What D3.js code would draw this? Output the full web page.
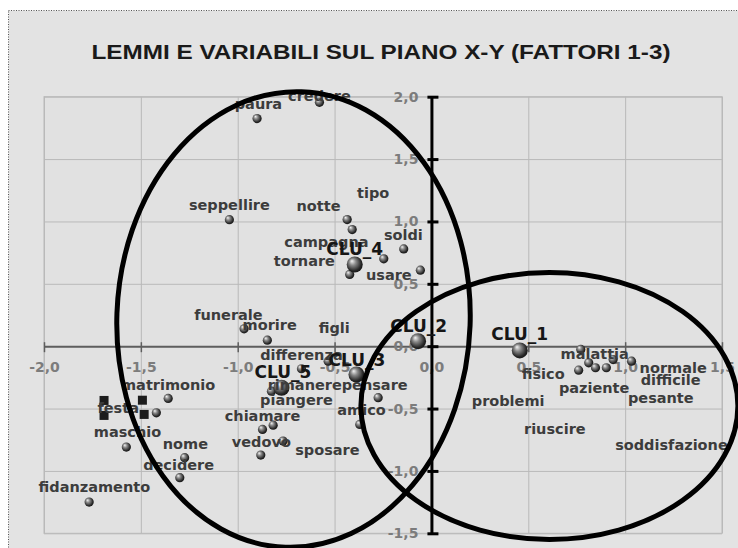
<!DOCTYPE html>
<html>
<head>
<meta charset="utf-8">
<script src="https://cdn.jsdelivr.net/npm/d3@7"></script>
<style>
  body { margin: 0; background: #fff; }
  svg { display: block; }
</style>
</head>
<body>
<div id="chart"></div>
<script>
(function() {
  // axis ticks
  var xTicks = [-2, -1.5, -1, -0.5, 0, 0.5, 1, 1.5];
  var yTicks = [-1.5, -1, -0.5, 0, 0.5, 1, 1.5, 2];

  // lemmi (small spheres)
  var lemmaX = [-0.900, -0.578, -1.043, -0.435, -0.409, -0.422, -0.246, -0.143, -0.057,
                -0.967, -0.847, -0.671, -0.533, -0.826, -0.275, -0.370, -0.817, -0.872,
                -0.766, -0.881,
                0.771, 0.812, 0.847, 0.903, 0.938, 1.033, 0.760,
                -1.359, -1.420, -1.575, -1.274, -1.299, -1.767];
  var lemmaY = [1.825, 1.955, 1.014, 1.015, 0.935, 0.575, 0.700, 0.780, 0.609,
                0.139, 0.048, -0.181, -0.120, -0.361, -0.413, -0.627, -0.633, -0.667,
                -0.761, -0.873,
                -0.026, -0.133, -0.173, -0.173, -0.107, -0.120, -0.192,
                -0.419, -0.534, -0.809, -0.894, -1.054, -1.250];

  // cluster centres (big spheres)
  var cluNames = ["CLU_1", "CLU_2", "CLU_3", "CLU_4", "CLU_5"];
  var cluX = [0.456, -0.069, -0.387, -0.396, -0.774];
  var cluY = [-0.034, 0.040, -0.227, 0.655, -0.333];

  // variabili (squares)
  var varX = [-1.690, -1.690, -1.492, -1.483];
  var varY = [-0.435, -0.555, -0.433, -0.547];

  // labels and where they sit on the plane
  var labelText = ["paura", "credere", "seppellire", "notte", "tipo", "campagna", "tornare", "soldi", "usare",
                   "funerale", "morire", "figli", "differenza", "rimanere", "pensare", "piangere", "amico",
                   "chiamare", "vedovo", "sposare",
                   "malattia", "fisico", "normale", "difficile", "paziente", "pesante", "problemi", "riuscire", "soddisfazione",
                   "matrimonio", "festa", "maschio", "nome", "decidere", "fidanzamento"];
  var labelX = [-0.893, -0.578, -1.043, -0.583, -0.301, -0.542, -0.656, -0.145, -0.220,
                -1.048, -0.835, -0.502, -0.671, -0.654, -0.293, -0.697, -0.361,
                -0.872, -0.878, -0.537,
                0.843, 0.577, 1.248, 1.235, 0.840, 1.184, 0.396, 0.637, 1.239,
                -1.359, -1.617, -1.569, -1.270, -1.305, -1.740];
  var labelY = [1.944, 2.009, 1.130, 1.122, 1.229, 0.839, 0.687, 0.895, 0.569,
                0.254, 0.168, 0.147, -0.067, -0.307, -0.307, -0.427, -0.507,
                -0.555, -0.766, -0.833,
                -0.061, -0.221, -0.173, -0.267, -0.333, -0.413, -0.435, -0.662, -0.793,
                -0.307, -0.494, -0.689, -0.780, -0.948, -1.127];
  var cluLabelX = [0.456, -0.066, -0.384, -0.396, -0.766];
  var cluLabelY = [0.102, 0.160, -0.107, 0.780, -0.205];

  // hand-drawn ellipses (centre, radii in data units, tilt in degrees)
  var ellCx = [-0.712, 0.609];
  var ellCy = [0.214, -0.479];
  var ellRx = [0.912, 0.973];
  var ellRy = [1.827, 1.070];
  var ellTilt = [2, 0];

  var W = 738, H = 548;
  var plot = {left: 44, right: 722, top: 96.7, bottom: 533.3};

  var it = d3.formatLocale({decimal: ",", thousands: ".", grouping: [3], currency: ["", "€"], minus: "-"});
  var fmt = it.format(".1f");

  var x = d3.scaleLinear().domain([-2, 1.5]).range([plot.left, plot.right]);
  var y = d3.scaleLinear().domain([-1.5, 2]).range([plot.bottom, plot.top]);

  var svg = d3.select("#chart").append("svg")
    .attr("width", W).attr("height", H);

  var defs = svg.append("defs");
  var grad = defs.append("radialGradient")
    .attr("id", "ball").attr("cx", "45%").attr("cy", "45%").attr("r", "60%")
    .attr("fx", "32%").attr("fy", "28%");
  grad.append("stop").attr("offset", "0%").attr("stop-color", "#f4f4f4");
  grad.append("stop").attr("offset", "35%").attr("stop-color", "#8a8a8a");
  grad.append("stop").attr("offset", "80%").attr("stop-color", "#262626");
  grad.append("stop").attr("offset", "100%").attr("stop-color", "#111");

  // chart area with dotted frame
  svg.append("rect")
    .attr("x", 8.5).attr("y", 10.5).attr("width", W).attr("height", H)
    .attr("fill", "#e3e3e3")
    .attr("stroke", "#555").attr("stroke-width", 1).attr("stroke-dasharray", "1,1.5");

  svg.append("text")
    .attr("x", 381).attr("y", 58.5)
    .attr("text-anchor", "middle")
    .attr("font-family", "'Liberation Sans Narrow', 'Liberation Sans', sans-serif")
    .attr("font-weight", "bold")
    .attr("font-size", 21)
    .attr("fill", "#1a1a1a")
    .attr("textLength", 579).attr("lengthAdjust", "spacingAndGlyphs")
    .text("LEMMI E VARIABILI SUL PIANO X-Y  (FATTORI 1-3)");

  // plot area and grid
  svg.append("rect")
    .attr("x", plot.left).attr("y", plot.top)
    .attr("width", plot.right - plot.left).attr("height", plot.bottom - plot.top)
    .attr("fill", "#e1e1e1").attr("stroke", "#b9b9b9");

  svg.append("g")
    .attr("transform", `translate(0,${plot.bottom})`)
    .call(d3.axisBottom(x).tickValues(xTicks).tickSize(-(plot.bottom - plot.top)).tickFormat(""))
    .call(g => g.select(".domain").remove())
    .call(g => g.selectAll("line").attr("stroke", "#b9b9b9"));

  svg.append("g")
    .attr("transform", `translate(${plot.left},0)`)
    .call(d3.axisLeft(y).tickValues(yTicks).tickSize(-(plot.right - plot.left)).tickFormat(""))
    .call(g => g.select(".domain").remove())
    .call(g => g.selectAll("line").attr("stroke", "#b9b9b9"));

  // X axis through y = 0
  var gx = svg.append("g")
    .attr("transform", `translate(0,${y(0)})`)
    .call(d3.axisBottom(x).tickValues(xTicks).tickFormat(fmt).tickSizeOuter(0));
  gx.select(".domain").attr("stroke", "#5e5e5e").attr("stroke-width", 2);
  gx.selectAll(".tick line").attr("y1", -4).attr("y2", 6).attr("stroke", "#5e5e5e").attr("stroke-width", 1.5);
  gx.selectAll(".tick text")
    .attr("y", 21).attr("dy", "0.36em")
    .attr("font-family", "'DejaVu Sans', Verdana, sans-serif")
    .attr("font-weight", "bold").attr("font-size", 14).attr("fill", "#7c7c7c");

  // Y axis through x = 0
  var gy = svg.append("g")
    .attr("transform", `translate(${x(0)},0)`)
    .call(d3.axisLeft(y).tickValues(yTicks).tickFormat(fmt).tickSizeOuter(0).tickPadding(7));
  gy.select(".domain").attr("stroke", "#000").attr("stroke-width", 3);
  gy.selectAll(".tick line").attr("x1", 7).attr("x2", -4).attr("stroke", "#000").attr("stroke-width", 3);
  gy.selectAll(".tick text")
    .attr("x", -13)
    .attr("font-family", "'DejaVu Sans', Verdana, sans-serif")
    .attr("font-weight", "bold").attr("font-size", 14).attr("fill", "#7c7c7c");
  svg.selectAll(".tick text").attr("stroke", "none");

  // squares
  svg.append("g").selectAll("rect")
    .data(varX)
    .join("rect")
      .attr("x", (d, i) => x(d) - 4.5)
      .attr("y", (d, i) => y(varY[i]) - 4.5)
      .attr("width", 9).attr("height", 9)
      .attr("fill", "#1c1c1c");

  // small spheres
  svg.append("g").selectAll("circle")
    .data(lemmaX)
    .join("circle")
      .attr("cx", d => x(d))
      .attr("cy", (d, i) => y(lemmaY[i]))
      .attr("r", 4.6)
      .attr("fill", "url(#ball)");

  // cluster spheres
  svg.append("g").selectAll("circle")
    .data(cluX)
    .join("circle")
      .attr("cx", d => x(d))
      .attr("cy", (d, i) => y(cluY[i]))
      .attr("r", 8)
      .attr("fill", "url(#ball)");

  // word labels
  svg.append("g")
    .attr("font-family", "'DejaVu Sans', Verdana, sans-serif")
    .attr("font-weight", "bold").attr("font-size", 14.5)
    .attr("fill", "#3c3c3c").attr("text-anchor", "middle")
    .selectAll("text")
    .data(labelText)
    .join("text")
      .attr("x", (d, i) => x(labelX[i]))
      .attr("y", (d, i) => y(labelY[i]))
      .attr("dy", "0.36em")
      .text(d => d);

  svg.append("g")
    .attr("font-family", "'DejaVu Sans', Verdana, sans-serif")
    .attr("font-weight", "bold").attr("font-size", 17)
    .attr("fill", "#161616").attr("text-anchor", "middle")
    .selectAll("text")
    .data(cluNames)
    .join("text")
      .attr("x", (d, i) => x(cluLabelX[i]))
      .attr("y", (d, i) => y(cluLabelY[i]))
      .attr("dy", "0.36em")
      .text(d => d);

  // ellipses drawn over the chart
  svg.append("g").selectAll("ellipse")
    .data(ellCx)
    .join("ellipse")
      .attr("cx", d => x(d))
      .attr("cy", (d, i) => y(ellCy[i]))
      .attr("rx", (d, i) => x(d + ellRx[i]) - x(d))
      .attr("ry", (d, i) => y(ellCy[i]) - y(ellCy[i] + ellRy[i]))
      .attr("transform", (d, i) => `rotate(${ellTilt[i]},${x(d)},${y(ellCy[i])})`)
      .attr("fill", "none")
      .attr("stroke", "#000")
      .attr("stroke-width", 5);
})();
</script>
</body>
</html>
